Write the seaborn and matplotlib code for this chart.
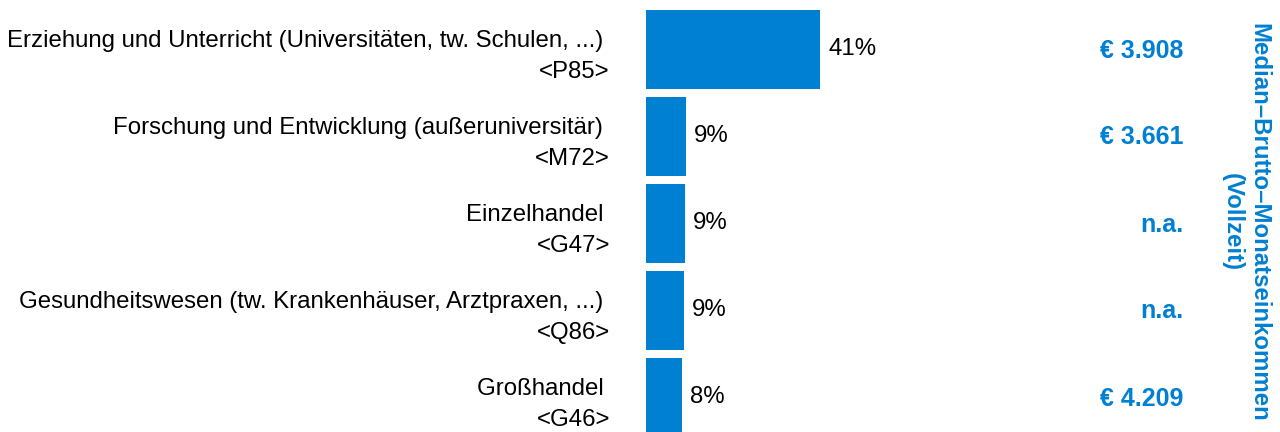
import matplotlib
matplotlib.use('Agg')
import matplotlib.pyplot as plt
import pandas as pd
import seaborn as sns

sns.set_style('white')
plt.rcParams['font.family'] = ['Liberation Sans', 'DejaVu Sans']
plt.rcParams['text.color'] = 'black'

branchen = ['Erziehung und Unterricht (Universitäten, tw. Schulen, ...) \n<P85>',
            'Forschung und Entwicklung (außeruniversitär) \n<M72>',
            'Einzelhandel \n<G47>',
            'Gesundheitswesen (tw. Krankenhäuser, Arztpraxen, ...) \n<Q86>',
            'Großhandel \n<G46>']
anteil = [41.0, 9.4, 9.2, 8.9, 8.4]
einkommen = ['€ 3.908', '€ 3.661', 'n.a.', 'n.a.', '€ 4.209']

blue = '#0080D2'
fs = 17.3
df = pd.DataFrame({'branche': branchen, 'anteil': anteil})

fig = plt.figure(figsize=(12.8, 4.32), dpi=100)
ax = fig.add_axes([646 / 1280, 0, (1100 - 646) / 1280, 1])
sns.barplot(data=df, x='anteil', y='branche', color=blue, saturation=1,
            width=0.908, linewidth=0, ax=ax)
ax.set_xlim(0, (1100 - 646) / 4.24)
ax.set_ylim(4.397, -0.569)
ax.set_xlabel('')
ax.set_ylabel('')
ax.set_xticks([])
sns.despine(ax=ax, left=True, bottom=True)
ax.tick_params(axis='y', length=0, pad=26, labelcolor='black')
for lbl in ax.get_yticklabels():
    lbl.set_fontsize(fs)
    lbl.set_multialignment('right')
    lbl.set_linespacing(1.55)

ax.bar_label(ax.containers[0], labels=[f'{v:.0f}%' for v in anteil],
             padding=6, fontsize=fs, color='black')

for i, e in enumerate(einkommen):
    fig.text(1183 / 1280, 1 - (50.5 + 87 * i) / 432, e, ha='right', va='center',
             fontsize=18, fontweight='bold', color=blue)

fig.text(1246 / 1280, 1 - 222 / 432, 'Median–Brutto–Monatseinkommen\n(Vollzeit)',
         rotation=270, ha='center', va='center', multialignment='center',
         fontsize=fs, fontweight='bold', color=blue, linespacing=1.2)

plt.savefig('out.png', dpi=100)
